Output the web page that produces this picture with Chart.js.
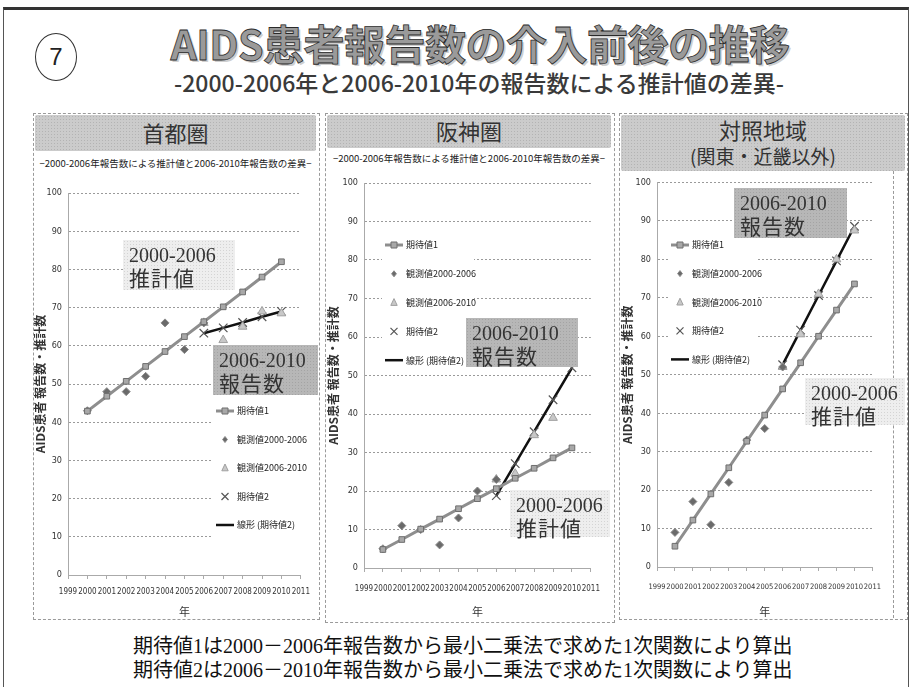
<!DOCTYPE html>
<html lang="ja">
<head>
<meta charset="utf-8">
<script src="https://cdn.jsdelivr.net/npm/chart.js@4.4.0/dist/chart.umd.min.js"></script>
<style>
  body { margin: 0; background: #fff; }
  #slide { position: relative; width: 914px; height: 687px; overflow: hidden; background: #fff;
    font-family: "Noto Sans CJK JP", sans-serif; color: #222; }
  .abs { position: absolute; }
  .frame { left: 3px; top: 7px; width: 904px; height: 700px; border-top: 3px solid #333;
    border-left: 1px solid #555; border-right: 1px solid #555; }
  .circle { left: 35px; top: 33px; width: 40px; height: 46px; border: 1px solid #333; border-radius: 50%;
    text-align: center; line-height: 46px; font-size: 24px; font-family: "Liberation Sans", sans-serif; }
  .title { left: 0; width: 960px; top: 12px; text-align: center; font-size: 41px; font-weight: 700;
    color: #9a9a9a; -webkit-text-stroke: 0.8px #2a2a2a; text-shadow: 2px 2px 0 #cfcfcf; letter-spacing: -0.5px; }
  .subtitle { left: 0; width: 958px; top: 65px; text-align: center; font-size: 23px; font-weight: 500;
    color: #3a3a3a; }
  .panel { border: 1px dashed #9a9a9a; }
  .head { background: #cbcbcb radial-gradient(#b3b3b3 0.7px, transparent 0.9px) 0 0 / 3px 3px;
    text-align: center; color: #333; border-radius: 2px; }
  .ctitle { font-size: 9.5px; text-align: center; color: #222; white-space: nowrap; }
  .note { font-family: "Liberation Serif", "Noto Sans CJK JP", serif; font-size: 20px; color: #111;
    left: 133px; white-space: nowrap; }
  .ann { font-family: "Liberation Serif", "Noto Sans CJK JP", serif; font-size: 20px; line-height: 22px;
    color: #333; padding: 4px 0 0 6px; box-sizing: border-box; white-space: nowrap; }
  .ann .k { font-family: "Noto Sans CJK JP", sans-serif; font-size: 21px; letter-spacing: 1px; }
  .light { background: #eeeeee radial-gradient(#d4d4d4 0.7px, transparent 0.9px) 0 0 / 3px 3px; }
  .dark { background: #b7b7b7 radial-gradient(#a4a4a4 0.7px, transparent 0.9px) 0 0 / 3px 3px; }
  canvas { position: absolute; }
</style>
</head>
<body>
<div id="slide">
  <div class="abs frame"></div>
  <div class="abs circle">7</div>
  <div class="abs title">AIDS患者報告数の介入前後の推移</div>
  <div class="abs subtitle">-2000-2006年と2006-2010年の報告数による推計値の差異-</div>

  <div class="abs panel" style="left:33px;top:113px;width:285px;height:505px;"></div>
  <div class="abs panel" style="left:325px;top:113px;width:288px;height:508px;"></div>
  <div class="abs panel" style="left:619px;top:113px;width:287px;height:505px;"></div>
  <div class="abs" style="left:893px;top:171px;width:0;height:447px;border-left:1px dashed #9a9a9a;"></div>

  <div class="abs head" style="left:35px;top:115px;width:281px;height:36px;line-height:34px;font-size:22px;">首都圏</div>
  <div class="abs head" style="left:327px;top:115px;width:284px;height:33px;line-height:31px;font-size:22px;">阪神圏</div>
  <div class="abs head" style="left:621px;top:115px;width:284px;height:56px;font-size:22px;line-height:25px;padding-top:2px;box-sizing:border-box;">対照地域<br><span style="font-size:19px;">(関東・近畿以外)</span></div>

  <div class="abs ctitle" style="left:35px;top:156px;width:281px;">−2000-2006年報告数による推計値と2006-2010年報告数の差異−</div>
  <div class="abs ctitle" style="left:327px;top:151px;width:284px;">−2000-2006年報告数による推計値と2006-2010年報告数の差異−</div>

  <canvas id="c1" width="285" height="468" style="left:33px;top:150px;"></canvas>
  <canvas id="c2" width="286" height="470" style="left:326px;top:148px;"></canvas>
  <canvas id="c3" width="273" height="447" style="left:620px;top:171px;"></canvas>

  <div class="abs ann light" style="left:123px;top:240px;width:112px;height:50px;">2000-2006<br><span class="k">推計値</span></div>
  <div class="abs ann dark" style="left:213px;top:345px;width:105px;height:50px;">2006-2010<br><span class="k">報告数</span></div>

  <div class="abs ann dark" style="left:466px;top:318px;width:112px;height:49px;">2006-2010<br><span class="k">報告数</span></div>
  <div class="abs ann light" style="left:510px;top:490px;width:100px;height:47px;">2000-2006<br><span class="k">推計値</span></div>

  <div class="abs ann dark" style="left:734px;top:188px;width:113px;height:50px;">2006-2010<br><span class="k">報告数</span></div>
  <div class="abs ann light" style="left:805px;top:378px;width:100px;height:47px;">2000-2006<br><span class="k">推計値</span></div>

  <div class="abs note" style="top:630px;">期待値1は2000－2006年報告数から最小二乗法で求めた1次関数により算出</div>
  <div class="abs note" style="top:654px;">期待値2は2006－2010年報告数から最小二乗法で求めた1次関数により算出</div>
</div>

<script>
// years
const years1 = [2000, 2001, 2002, 2003, 2004, 2005, 2006, 2007, 2008, 2009, 2010];
const obsYears1 = [2000, 2001, 2002, 2003, 2004, 2005, 2006];
const years2 = [2006, 2007, 2008, 2009, 2010];

// 首都圏
const shutoExpected1 = [42.9, 46.8, 50.7, 54.6, 58.5, 62.4, 66.3, 70.2, 74.1, 78.0, 82.0];
const shutoObs1 = [43, 48, 48, 52, 66, 59, 66];
const shutoObs2 = [66, 61.5, 65, 69, 68.5];
const shutoExpected2 = [63.3, 64.7, 66.1, 67.6, 69.0];

// 阪神圏
const hanshinExpected1 = [4.8, 7.4, 10.1, 12.7, 15.4, 18.0, 20.6, 23.3, 25.9, 28.6, 31.2];
const hanshinObs1 = [5, 11, 10, 6, 13, 20, 23];
const hanshinObs2 = [23, 24.5, 34.5, 39, 57.5];
const hanshinExpected2 = [18.8, 27.1, 35.4, 43.7, 52.0];

// 対照地域
const taishoExpected1 = [5.4, 12.2, 19.0, 25.8, 32.7, 39.5, 46.3, 53.1, 60.0, 66.8, 73.6];
const taishoObs1 = [9, 17, 11, 22, 33, 36, 52];
const taishoObs2 = [52, 60.5, 71, 80, 87.5];
const taishoExpected2 = [52.6, 61.6, 70.6, 79.6, 88.6];

const seriesLabels = ['期待値1', '観測値2000-2006', '観測値2006-2010', '期待値2', '線形 (期待値2)'];
const yTicks = [0, 10, 20, 30, 40, 50, 60, 70, 80, 90, 100];

const tickFamily = '"Liberation Sans Narrow", "DejaVu Sans Condensed", "Liberation Sans", sans-serif';

function toPoints(xs, ys) {
  return xs.map((x, i) => ({ x: x, y: ys[i] }));
}

function drawMarker(ctx, style, r, x, y) {
  ctx.beginPath();
  if (style === 'rect') {
    ctx.rect(x - r, y - r, r * 2, r * 2);
    ctx.fill(); ctx.stroke();
  } else if (style === 'rectRot') {
    ctx.moveTo(x, y - r); ctx.lineTo(x + r * 0.8, y); ctx.lineTo(x, y + r); ctx.lineTo(x - r * 0.8, y);
    ctx.closePath(); ctx.fill(); ctx.stroke();
  } else if (style === 'triangle') {
    ctx.moveTo(x, y - r); ctx.lineTo(x + r * 0.8, y + r * 0.7); ctx.lineTo(x - r * 0.8, y + r * 0.7);
    ctx.closePath(); ctx.fill(); ctx.stroke();
  } else if (style === 'crossRot') {
    ctx.moveTo(x - r * 0.7, y - r * 0.7); ctx.lineTo(x + r * 0.7, y + r * 0.7);
    ctx.moveTo(x + r * 0.7, y - r * 0.7); ctx.lineTo(x - r * 0.7, y + r * 0.7);
    ctx.stroke();
  }
}

// legend drawn inside the plot, like the original spreadsheet chart
const boxLegend = {
  id: 'boxLegend',
  afterDraw(chart, args, opts) {
    const ctx = chart.ctx;
    const sets = chart.data.datasets;
    ctx.save();
    ctx.fillStyle = '#fff';
    ctx.fillRect(opts.x - 12, opts.y - opts.gap / 2, opts.width, opts.gap * sets.length);
    ctx.font = '9px "Noto Sans CJK JP", sans-serif';
    ctx.textBaseline = 'middle';
    sets.forEach((ds, i) => {
      const y = opts.y + i * opts.gap;
      if (ds.showLine) {
        ctx.strokeStyle = ds.borderColor;
        ctx.lineWidth = ds.borderWidth;
        ctx.beginPath();
        ctx.moveTo(opts.x - 9, y);
        ctx.lineTo(opts.x + 9, y);
        ctx.stroke();
      }
      if (ds.pointRadius > 0) {
        ctx.fillStyle = ds.pointBackgroundColor;
        ctx.strokeStyle = ds.pointBorderColor;
        ctx.lineWidth = ds.pointBorderWidth;
        drawMarker(ctx, ds.pointStyle, ds.pointRadius - 1, opts.x, y);
      }
      ctx.fillStyle = '#222';
      ctx.fillText(ds.label, opts.x + 12, y);
    });
    ctx.restore();
  }
};

function makeChart(id, d, lay) {
  const datasets = [
    { label: seriesLabels[0], data: toPoints(years1, d.e1), showLine: true, borderColor: '#8e8e8e', borderWidth: 3,
      pointStyle: 'rect', pointRadius: 4, pointBackgroundColor: '#a8a8a8', pointBorderColor: '#6e6e6e', pointBorderWidth: 1 },
    { label: seriesLabels[1], data: toPoints(obsYears1, d.o1), showLine: false, borderColor: '#555',
      pointStyle: 'rectRot', pointRadius: 4, pointBackgroundColor: '#6a6a6a', pointBorderColor: '#888', pointBorderWidth: 1 },
    { label: seriesLabels[2], data: toPoints(years2, d.o2), showLine: false, borderColor: '#999',
      pointStyle: 'triangle', pointRadius: 5, pointBackgroundColor: '#c8c8c8', pointBorderColor: '#a0a0a0', pointBorderWidth: 1 },
    { label: seriesLabels[3], data: toPoints(years2, d.e2), showLine: false, borderColor: '#555',
      pointStyle: 'crossRot', pointRadius: 6, pointBackgroundColor: '#555', pointBorderColor: '#555', pointBorderWidth: 1.2 },
    { label: seriesLabels[4], data: toPoints(years2, d.e2), showLine: true, borderColor: '#111', borderWidth: 2.5,
      pointRadius: 0, pointStyle: 'circle', pointBackgroundColor: '#111', pointBorderColor: '#111', pointBorderWidth: 0 }
  ];

  return new Chart(document.getElementById(id), {
    type: 'scatter',
    data: { datasets: datasets },
    plugins: [boxLegend],
    options: {
      responsive: false,
      animation: false,
      layout: { padding: { top: lay.top, right: lay.right, left: 0, bottom: 0 } },
      plugins: {
        legend: { display: false },
        tooltip: { enabled: false },
        boxLegend: lay.legend
      },
      scales: {
        x: {
          type: 'linear', min: 1999, max: 2011,
          afterFit: s => { s.height = lay.xHeight; },
          ticks: { stepSize: 1, autoSkip: false, maxRotation: 0, padding: lay.tickPad,
            font: { family: tickFamily, size: lay.xFont }, color: '#333',
            callback: v => String(v) },
          grid: { drawOnChartArea: false, drawTicks: true, tickLength: 4, color: '#aaa' },
          border: { dash: [2, 2], color: '#aaa' },
          title: { display: true, text: '年', font: { size: 11, family: '"Noto Sans CJK JP", sans-serif' }, color: '#333', padding: 0 }
        },
        y: {
          min: 0, max: 100,
          afterFit: s => { s.width = lay.yWidth; },
          afterBuildTicks: s => { s.ticks = yTicks.map(v => ({ value: v })); },
          ticks: { padding: 6, font: { family: tickFamily, size: 9 }, color: '#333' },
          grid: { drawTicks: false, color: c => (c.tick && c.tick.value === 0) ? 'rgba(0,0,0,0)' : '#9a9a9a' },
          border: { dash: [2, 2], color: '#aaa' },
          title: { display: true, text: 'AIDS患者 報告数・推計数', font: { size: 12, weight: 'bold', family: '"Noto Sans CJK JP", sans-serif' },
            color: '#333', padding: { top: 0, bottom: 2 } }
        }
      }
    }
  });
}

makeChart('c1', { e1: shutoExpected1, o1: shutoObs1, o2: shutoObs2, e2: shutoExpected2 },
  { top: 43, right: 11, yWidth: 35, xHeight: 43, tickPad: 8, xFont: 8,
    legend: { x: 192, y: 261, gap: 28.5, width: 92 } });

makeChart('c2', { e1: hanshinExpected1, o1: hanshinObs1, o2: hanshinObs2, e2: hanshinExpected2 },
  { top: 35, right: 8, yWidth: 38, xHeight: 50, tickPad: 12, xFont: 8,
    legend: { x: 68, y: 97, gap: 28.8, width: 92 } });

makeChart('c3', { e1: taishoExpected1, o1: taishoObs1, o2: taishoObs2, e2: taishoExpected2 },
  { top: 8, right: 13.5, yWidth: 37, xHeight: 51, tickPad: 12, xFont: 7.5,
    legend: { x: 60, y: 74, gap: 28.6, width: 90 } });
</script>
</body>
</html>
